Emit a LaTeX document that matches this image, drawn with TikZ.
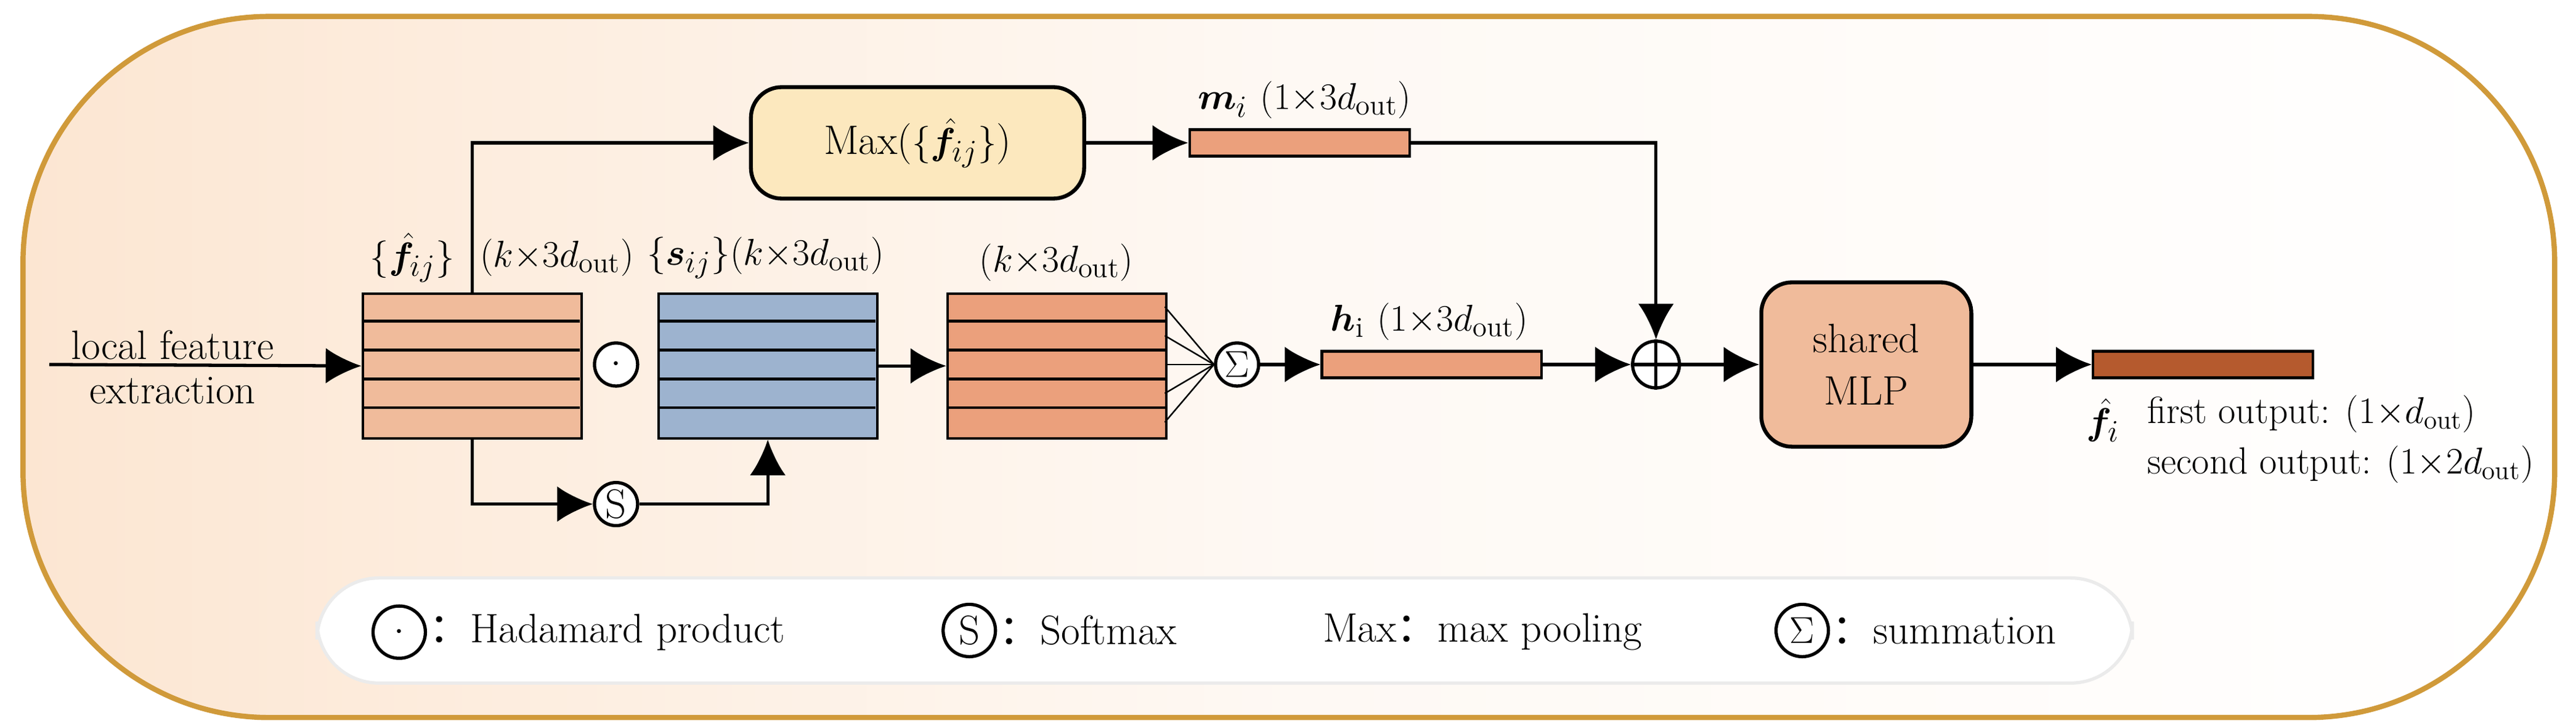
\documentclass[tikz,border=0pt]{standalone}
\usepackage{bm}
\usepackage{fontspec}
\newfontfamily\cjk{Noto Sans CJK SC}
\usetikzlibrary{arrows.meta,calc}
\definecolor{gold}{RGB}{208,154,58}
\definecolor{peach}{RGB}{252,230,210}
\definecolor{fcol}{RGB}{240,187,155}
\definecolor{scol}{RGB}{157,179,207}
\definecolor{tcol}{RGB}{235,160,124}
\definecolor{maxcol}{RGB}{252,232,190}
\definecolor{outcol}{RGB}{181,90,46}
\begin{document}
\begin{tikzpicture}[x=0.02667cm,y=-0.02667cm,
  every node/.style={font=\fontsize{19}{22}\selectfont, inner sep=0pt},
  small/.style={font=\fontsize{17.5}{21}\selectfont},
  arr/.style={line width=1.5pt,-{Latex[length=0.58cm,width=0.58cm]}},
  op/.style={circle,draw,line width=1.5pt,minimum size=0.7cm,fill=white},
  lop/.style={op,minimum size=0.85cm},
  bar/.style={draw,line width=1.2pt,minimum width=3.57cm,minimum height=0.43cm}]
\useasboundingbox (0,0) rectangle (1568,442);
\shade[left color=peach,right color=white,middle color=peach!25,rounded corners=4cm] (14,10) rectangle (1555,437);
\draw[gold,line width=2.4pt,rounded corners=4cm] (14,10) rectangle (1555,437);
% legend box
\draw[black!8,fill=white,line width=1.5pt,rounded corners=1cm] (193,352) rectangle (1298,416);
% stacked boxes
\foreach \n/\x/\c in {fbox/220/fcol,sbox/400/scol,tbox/576/tcol}{
  \node[draw,line width=1.2pt,fill=\c,minimum width=3.55cm,minimum height=2.35cm,anchor=north west] (\n) at (\x,178) {};
  \foreach \k in {1,...,4}{\draw[line width=1.2pt] (\x,178+17.6*\k) -- (\x+133,178+17.6*\k);}
}
\node[op] (dot) at (375,222) {$\cdot$};
\node[op] (sum) at (753,222) {$\Sigma$};
\node[op] (soft) at (375,307) {S};
\node[op,minimum size=0.76cm] (plus) at (1008,222) {};
\draw[line width=1.5pt] (plus.north) -- (plus.south) (plus.west) -- (plus.east);
\node[bar,fill=tcol] (hbar) at (871.5,222) {};
\node[bar,fill=tcol] (mbar) at (791,87) {};
\node[bar,fill=outcol] (obar) at (1341,222) {};
\node[draw,line width=1.8pt,fill=maxcol,rounded corners=0.5cm,minimum width=5.41cm,minimum height=1.81cm] (max) at (558.5,87) {Max($\{\hat{\bm f}_{ij}\}$)};
\node[draw,line width=1.8pt,fill=fcol,rounded corners=0.5cm,minimum width=3.41cm,minimum height=2.67cm,align=center] (mlp) at (1136,222) {shared\\[2pt]MLP};
\coordinate (in) at (30,222);
% connectors
\draw[arr] (in) -- (fbox.west);
\draw[arr] (fbox.north) |- (max.west);
\draw[arr] (max.east) -- (mbar.west);
\draw[arr] (mbar.east) -| (plus.north);
\draw[arr] (fbox.south) |- (soft.west);
\draw[arr] (soft.east) -| (sbox.south);
\draw[arr] (sbox.east) -- (tbox.west);
\foreach \k in {0,...,4}{\draw[line width=0.7pt] (709,186.8+17.6*\k) -- (sum.west);}
\draw[arr] (sum.east) -- (hbar.west);
\draw[arr] (hbar.east) -- (plus.west);
\draw[arr] (plus.east) -- (mlp.west);
\draw[arr] (mlp.east) -- (obar.west);
% labels
\node (l1) at (105,210) {local feature};
\node (l2) at (105,238) {extraction};
\node (lf) at (251,157) {$\{\hat{\bm f}_{ij}\}$};
\node (lk1) at (339,157) {$(k{\times}3d_{\mathrm{out}})$};
\node (ls) at (466,157) {$\{\bm s_{ij}\}(k{\times}3d_{\mathrm{out}})$};
\node (lk3) at (643,160) {$(k{\times}3d_{\mathrm{out}})$};
\node (lm) at (794,61) {$\bm m_i\ (1{\times}3d_{\mathrm{out}})$};
\node (lh) at (870,196) {$\bm h_{\mathrm i}\ (1{\times}3d_{\mathrm{out}})$};
\node (lfi) at (1280,256) {$\hat{\bm f}_i$};
\node[small,anchor=west] (o1) at (1307,252) {first output: $(1{\times}d_{\mathrm{out}})$};
\node[small,anchor=west] (o2) at (1307,283) {second output: $(1{\times}2d_{\mathrm{out}})$};
% legend
\node[lop] (g1) at (243,385) {$\cdot$};
\node[anchor=west] (t1) at (261,385) {{\cjk ：}Hadamard product};
\node[lop] (g2) at (590,384) {S};
\node[anchor=west] (t2) at (608,384) {{\cjk ：}Softmax};
\node[anchor=west] (t3) at (805,385) {Max{\cjk ：}max pooling};
\node[lop] (g4) at (1097,384) {$\Sigma$};
\node[anchor=west] (t4) at (1115,384) {{\cjk ：}summation};
\end{tikzpicture}
\end{document}
